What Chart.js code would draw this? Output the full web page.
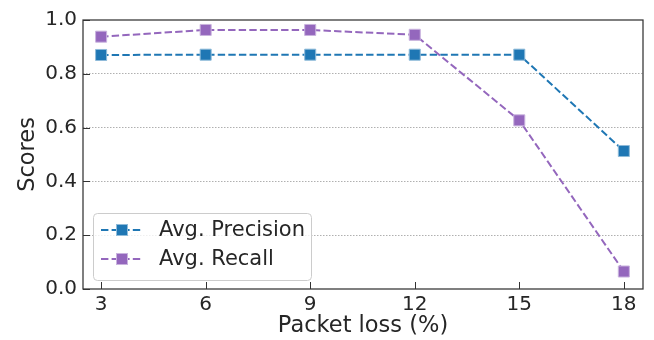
<!DOCTYPE html>
<html>
<head>
<meta charset="utf-8">
<script src="https://cdn.jsdelivr.net/npm/chart.js@4.4.1/dist/chart.umd.min.js"></script>
<style>
  html, body { margin: 0; padding: 0; background: #fff; }
  #wrap { width: 654px; height: 340px; }
</style>
</head>
<body>
<div id="wrap"><canvas id="chart" width="654" height="340"></canvas></div>
<script>
// data
const packetLoss = [3, 6, 9, 12, 15, 18];
const avgPrecision = [0.870, 0.871, 0.871, 0.871, 0.871, 0.513];
const avgRecall = [0.938, 0.963, 0.963, 0.945, 0.627, 0.065];
const yTicks = [0, 0.2, 0.4, 0.6, 0.8, 1.0];

const TEXT = '#262626';
const FONT = 'DejaVu Sans';
const BLUE = '#1f77b4';
const PURPLE = '#9467bd';
const DASH = [7.4, 3.2];

const series = [
    { label: 'Avg. Precision', values: avgPrecision, color: BLUE, edge: '#8fbbd9' },
    { label: 'Avg. Recall', values: avgRecall, color: PURPLE, edge: '#c9b3de' }
];

function toPoints(values) {
    return values.map((v, i) => ({ x: packetLoss[i], y: v }));
}

// spines, inward ticks and the legend box (matplotlib style)
const framePlugin = {
    id: 'frame',
    afterDraw(chart) {
        const ctx = chart.ctx;
        const a = chart.chartArea;
        const xs = chart.scales.x;
        const ys = chart.scales.y;
        ctx.save();
        ctx.strokeStyle = '#333333';
        ctx.lineWidth = 1.25;
        ctx.strokeRect(a.left, a.top, a.right - a.left, a.bottom - a.top);

        ctx.lineWidth = 1;
        ctx.beginPath();
        packetLoss.forEach(v => {
            const px = Math.round(xs.getPixelForValue(v)) + 0.5;
            ctx.moveTo(px, a.bottom);
            ctx.lineTo(px, a.bottom - 7);
        });
        yTicks.forEach(v => {
            const py = Math.round(ys.getPixelForValue(v)) + 0.5;
            ctx.moveTo(a.left, py);
            ctx.lineTo(a.left + 7, py);
        });
        ctx.stroke();

        // legend
        const bx = a.left + 10, bw = 218, bh = 67, by = a.bottom - 9 - bh;
        ctx.beginPath();
        ctx.roundRect(bx + 0.5, by + 0.5, bw, bh, 4);
        ctx.fillStyle = 'rgba(255,255,255,0.8)';
        ctx.fill();
        ctx.strokeStyle = '#cccccc';
        ctx.lineWidth = 1;
        ctx.stroke();

        series.forEach((s, i) => {
            const cy = by + 17 + i * 29;
            ctx.beginPath();
            ctx.setLineDash(DASH);
            ctx.strokeStyle = s.color;
            ctx.lineWidth = 2;
            ctx.moveTo(bx + 8, cy);
            ctx.lineTo(bx + 50, cy);
            ctx.stroke();
            ctx.setLineDash([]);
            ctx.fillStyle = s.color;
            ctx.strokeStyle = s.edge;
            ctx.lineWidth = 1;
            ctx.fillRect(bx + 23.5, cy - 5.5, 11, 11);
            ctx.strokeRect(bx + 23.5, cy - 5.5, 11, 11);
            ctx.fillStyle = TEXT;
            ctx.font = '21px "' + FONT + '"';
            ctx.textBaseline = 'middle';
            ctx.textAlign = 'left';
            ctx.fillText(s.label, bx + 66, cy + 1);
        });
        ctx.restore();
    }
};

new Chart(document.getElementById('chart'), {
    type: 'line',
    data: {
        datasets: series.map((s, i) => ({
            label: s.label,
            data: toPoints(s.values),
            borderColor: s.color,
            backgroundColor: s.color,
            borderWidth: 2,
            borderDash: DASH,
            pointStyle: 'rect',
            pointRadius: 7.8,
            pointBackgroundColor: s.color,
            pointBorderColor: s.edge,
            pointBorderWidth: 1,
            fill: false,
            tension: 0,
            order: 2 - i
        }))
    },
    options: {
        responsive: false,
        animation: false,
        layout: { padding: { top: 20, right: 11, left: 0, bottom: 0 } },
        plugins: {
            legend: { display: false },
            tooltip: { enabled: false }
        },
        scales: {
            x: {
                type: 'linear',
                min: 2.48,
                max: 18.55,
                afterBuildTicks: scale => { scale.ticks = packetLoss.map(v => ({ value: v })); },
                afterFit: scale => { scale.height = 51; },
                grid: { display: false, drawTicks: false },
                border: { display: false },
                ticks: {
                    color: TEXT,
                    font: { family: FONT, size: 20 },
                    padding: 4,
                    maxRotation: 0
                },
                title: {
                    display: true,
                    text: 'Packet loss (%)',
                    color: TEXT,
                    font: { family: FONT, size: 22.5 },
                    padding: { top: 0, bottom: 0 }
                }
            },
            y: {
                min: 0,
                max: 1,
                afterBuildTicks: scale => { scale.ticks = yTicks.map(v => ({ value: v })); },
                afterFit: scale => { scale.width = 83; },
                grid: {
                    drawTicks: false,
                    lineWidth: 1,
                    color: ctx => (ctx.tick && (ctx.tick.value === 0 || ctx.tick.value === 1)) ? 'rgba(0,0,0,0)' : '#b0b0b0'
                },
                border: { display: false, dash: [1.5, 1.5] },
                ticks: {
                    color: TEXT,
                    font: { family: FONT, size: 20 },
                    padding: 6,
                    callback: v => v.toFixed(1)
                },
                title: {
                    display: true,
                    text: 'Scores',
                    color: TEXT,
                    font: { family: FONT, size: 22.5 },
                    padding: { top: 15, bottom: 0 }
                }
            }
        }
    },
    plugins: [framePlugin]
});
</script>
</body>
</html>
